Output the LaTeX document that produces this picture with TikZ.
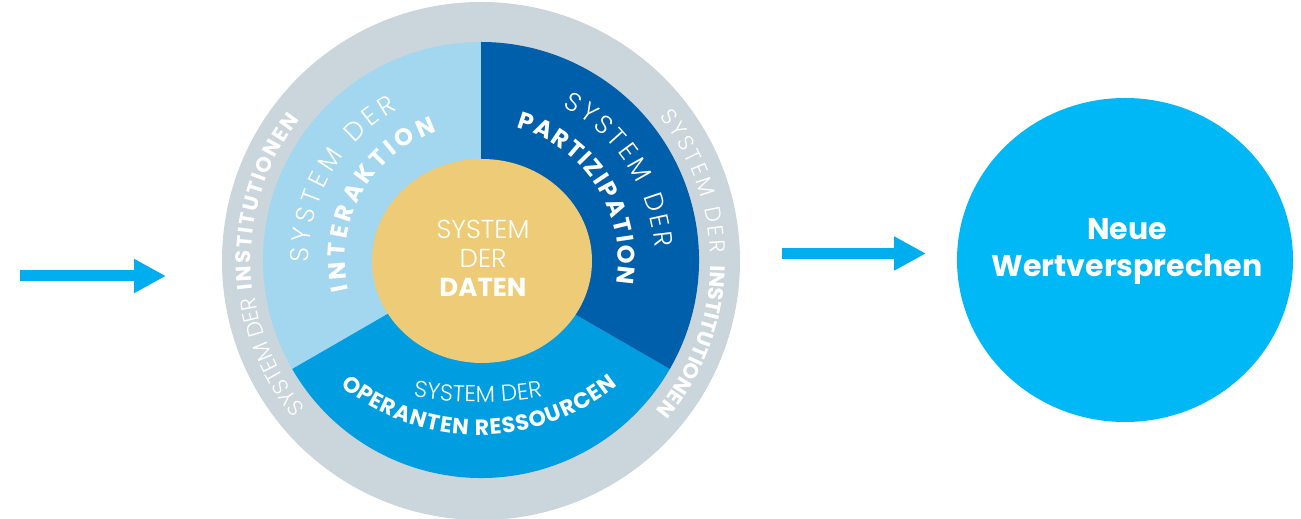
\documentclass[tikz,border=0pt]{standalone}
\usepackage{fontspec}
\setmainfont{Poppins}
\newfontfamily\thinfont{Poppins Light}
\newfontfamily\heavyfont{Poppins Bold}
\usetikzlibrary{shapes.geometric,decorations.text,arrows.meta}
\definecolor{ringgrey}{HTML}{CAD5DC}
\definecolor{skyblue}{HTML}{A3D7EF}
\definecolor{deepblue}{HTML}{005FAA}
\definecolor{midblue}{HTML}{009EE0}
\definecolor{datayellow}{HTML}{EECB77}
\definecolor{valueblue}{HTML}{00B8F5}
\definecolor{arrowblue}{HTML}{00AEEF}
\newcommand{\flowarw}{-{Triangle[length=32pt,width=32pt]}}
\newcommand{\lite}[1]{\thinfont\fontsize{#1}{#1}\selectfont\color{white}}
\newcommand{\heavy}[1]{\heavyfont\fontsize{#1}{#1}\selectfont\color{white}}

\begin{document}
\begin{tikzpicture}[x=1pt,y=1pt,
  arctext/.style={decorate,decoration={text along path,text align=fit to path,text={#1}}},
  arcword/.style={decorate,decoration={text along path,text align=center,text={#1}}}]
\useasboundingbox (0,0) rectangle (1301,519);
\coordinate (c) at (481,259);
%ring of institutions
\node[circle,fill=ringgrey,minimum size=518pt,inner sep=0pt] (inst) at (481,258) {};
%three sectors
\fill[skyblue] (c) -- ++(90:218) arc[start angle=90,end angle=210,radius=218] -- cycle;
\fill[midblue] (c) -- ++(210:218) arc[start angle=210,end angle=330,radius=218] -- cycle;
\fill[deepblue] (c) -- ++(-30:218) arc[start angle=-30,end angle=90,radius=218] -- cycle;
%data core
\node[ellipse,fill=datayellow,minimum width=220pt,minimum height=204pt,inner sep=0pt] (daten) at (482,258) {};
\node[align=center,text=white,font=\fontsize{26}{29}\selectfont] (datenlabel) at (483,261)
  {{\thinfont SYSTEM}\\{\thinfont DER}\\{\heavyfont DATEN}};
%curved labels
\path[arctext={|\lite{26}|SYSTEM DER}] (c) ++(181:172) arc[start angle=181,end angle=119,radius=172];
\path[arctext={|\heavy{24}|INTERAKTION}] (c) ++(193:136) arc[start angle=193,end angle=109,radius=136];
\path[arctext={|\lite{26}|SYSTEM DER}] (c) ++(62:174) arc[start angle=62,end angle=4,radius=174];
\path[arctext={|\heavy{24}|PARTIZIPATION}] (c) ++(75:137) arc[start angle=75,end angle=-10,radius=137];
\path[arcword={|\lite{23}|SYSTEM DER}] (478,517) ++(250:400) arc[start angle=250,end angle=290,radius=400];
\path[arctext={|\heavy{22}|OPERANTEN RESSOURCEN}] (479,304) ++(231:220) arc[start angle=231,end angle=309,radius=220];
\path[arctext={|\lite{22}|SYSTEM DER}] (inst.center) ++(220:229) arc[start angle=220,end angle=189,radius=229];
\path[arctext={|\heavy{21}|INSTITUTIONEN}] (inst.center) ++(187:230) arc[start angle=187,end angle=142,radius=230];
\path[arctext={|\lite{22}|SYSTEM DER}] (inst.center) ++(39:229) arc[start angle=39,end angle=2,radius=229];
\path[arctext={|\heavy{21}|INSTITUTIONEN}] (inst.center) ++(-1:230) arc[start angle=-1,end angle=-39,radius=230];
%value proposition
\node[ellipse,fill=valueblue,minimum width=336pt,minimum height=324pt,inner sep=0pt] (wert) at (1125,259) {};
\node[align=center,text=white,font=\heavyfont\fontsize{30}{37}\selectfont] (wertlabel) at (1127,267.4)
  {Neue\\Wertversprechen};
%flow arrows
\coordinate (src) at (20,243);
\coordinate (srcend) at (166,243);
\coordinate (out) at (782,265.5);
\coordinate (outend) at (926,265.5);
\draw[arrowblue,line width=11pt,\flowarw] (src) -- (srcend);
\draw[arrowblue,line width=11pt,\flowarw] (out) -- (outend);
\end{tikzpicture}
\end{document}
